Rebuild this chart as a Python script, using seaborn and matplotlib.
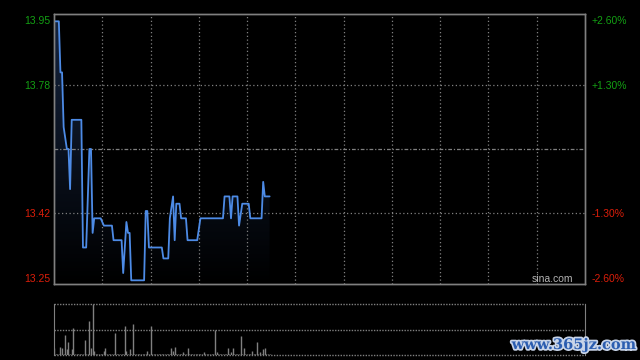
import numpy as np
import matplotlib
matplotlib.use('Agg')
import matplotlib.pyplot as plt
import matplotlib.patheffects as pe
from matplotlib.colors import LinearSegmentedColormap
import seaborn as sns

sns.set_style('dark')
plt.rcParams['font.family'] = ['Liberation Sans', 'DejaVu Sans']

# 昨收价及分时数据（分钟, 价格）
prev_close = 13.60
price_minutes = [0, 3, 4, 5, 6, 8, 9, 10, 11, 17, 18, 20, 22, 23, 24, 25, 29, 31, 36, 37,
                 42, 43, 45, 46, 47, 48, 56, 57, 58, 59, 67, 68, 71, 72, 74, 75, 76, 78, 79, 82,
                 83, 89, 91, 105, 106, 109, 110, 111, 114, 115, 117, 121, 122, 129, 130, 131, 134]
price_values = [13.95, 13.95, 13.81, 13.81, 13.66, 13.60, 13.60, 13.49, 13.68, 13.68, 13.33, 13.33, 13.60, 13.60, 13.37, 13.41, 13.41, 13.39, 13.39, 13.35,
                13.35, 13.26, 13.40, 13.37, 13.37, 13.24, 13.24, 13.43, 13.43, 13.33, 13.33, 13.30, 13.30, 13.41, 13.47, 13.35, 13.45, 13.45, 13.41, 13.41,
                13.35, 13.35, 13.41, 13.41, 13.47, 13.47, 13.41, 13.47, 13.47, 13.39, 13.45, 13.45, 13.41, 13.41, 13.51, 13.47, 13.47]

# 每分钟成交量（相对值）
volume = [14, 1, 1, 1, 16, 14, 1, 40, 12, 26, 1, 12, 52, 1, 1,
          1, 1, 1, 1, 30, 1, 1, 66, 14, 100, 8, 2, 1, 1, 1,
          1, 8, 14, 1, 1, 1, 1, 1, 44, 1, 1, 1, 1, 1, 56,
          8, 1, 12, 1, 60, 1, 1, 1, 1, 1, 1, 1, 1, 8, 1,
          56, 1, 1, 1, 1, 1, 1, 1, 1, 1, 1, 1, 1, 14, 8,
          16, 1, 1, 1, 1, 6, 1, 1, 14, 1, 1, 1, 1, 1, 1,
          1, 1, 1, 6, 1, 1, 1, 1, 1, 1, 50, 6, 1, 1, 1,
          1, 1, 1, 14, 1, 6, 14, 1, 1, 1, 1, 38, 1, 14, 1,
          1, 1, 1, 8, 1, 1, 26, 1, 6, 1, 12, 14, 1, 1, 1]

label_pcts = [2.6, 1.3, -1.3, -2.6]
left_labels = ['13.95', '13.78', '13.42', '13.25']
right_labels = ['+2.60%', '+1.30%', '-1.30%', '-2.60%']

green = '#13a013'
red = '#dc1e0a'
gray = '#808080'

fig = plt.figure(figsize=(6.4, 3.6), dpi=100, facecolor='black')
ax = fig.add_axes([54 / 640, 1 - 284 / 360, 531 / 640, 270 / 360])
ax2 = fig.add_axes([54 / 640, 1 - 355 / 360, 531 / 640, 51 / 360])

span = 0.02721
ylo, yhi = prev_close * (1 - span), prev_close * (1 + span)

for a in (ax, ax2):
    a.set_facecolor('black')
    a.set_xlim(0, 330)
    a.grid(False)
    a.set_xticks([])

# 渐变填充
poly = ax.fill_between(price_minutes, price_values, ylo, color='none', lw=0)
grad = np.linspace(1, 0, 256).reshape(-1, 1)
cmap = LinearSegmentedColormap.from_list('g', ['#000000', '#15243f'])
im = ax.imshow(grad, extent=[0, 330, ylo, yhi], aspect='auto', cmap=cmap, origin='upper', zorder=1)
im.set_clip_path(poly.get_paths()[0], ax.transData)

sns.lineplot(x=price_minutes, y=price_values, ax=ax, color='#4d8be6', lw=1.3, zorder=3)
ax.set_xlim(0, 330)
ax.set_ylim(ylo, yhi)

for m in range(30, 330, 30):
    ax.axvline(m, color=gray, lw=0.9, ls=(0, (1, 2)), zorder=2)
for p in (1.3, -1.3):
    ax.axhline(prev_close * (1 + p / 100), color=gray, lw=0.9, ls=(0, (1, 2)), zorder=2)
ax.axhline(prev_close, color=gray, lw=0.9, ls=(0, (3, 1.5, 1, 1.5)), zorder=2)

tick_prices = [prev_close * (1 + p / 100) for p in label_pcts]
colors = [green, green, red, red]
ax.set_yticks(tick_prices, left_labels)
ax.tick_params(axis='y', length=0, pad=3, labelsize=7.5)
for t, c in zip(ax.get_yticklabels(), colors):
    t.set_color(c)
axr = ax.twinx()
axr.set_ylim(ylo, yhi)
axr.set_yticks(tick_prices, right_labels)
axr.tick_params(axis='y', length=0, pad=5, labelsize=7.5)
for t, c in zip(axr.get_yticklabels(), colors):
    t.set_color(c)
for a in (ax, axr):
    for s in a.spines.values():
        s.set_color(gray)
        s.set_linewidth(1)

ax.text(0.977, 0.02, 'sina.com', transform=ax.transAxes, ha='right', va='center',
        color='#b4b4b4', fontsize=7.5, zorder=4)

# 成交量
ax2.vlines(range(len(volume)), 0, volume, color=gray, lw=1)
ax2.set_ylim(0, 100)
ax2.set_yticks([])
for v in (0, 50, 100):
    ax2.axhline(v, color=gray, lw=1, ls=(0, (1, 1)), clip_on=False)
for k in ('top', 'bottom'):
    ax2.spines[k].set_visible(False)
for k in ('left', 'right'):
    ax2.spines[k].set_color(gray)

fig.text(574 / 640, 1 - 345 / 360, 'www.365jz.com', ha='center', va='center', color='#2b5db0',
         fontsize=10.5, fontweight='bold', family='DejaVu Serif',
         path_effects=[pe.withStroke(linewidth=2.5, foreground='#c8d4e8')])

fig.savefig('out.png', dpi=100, facecolor='black')
